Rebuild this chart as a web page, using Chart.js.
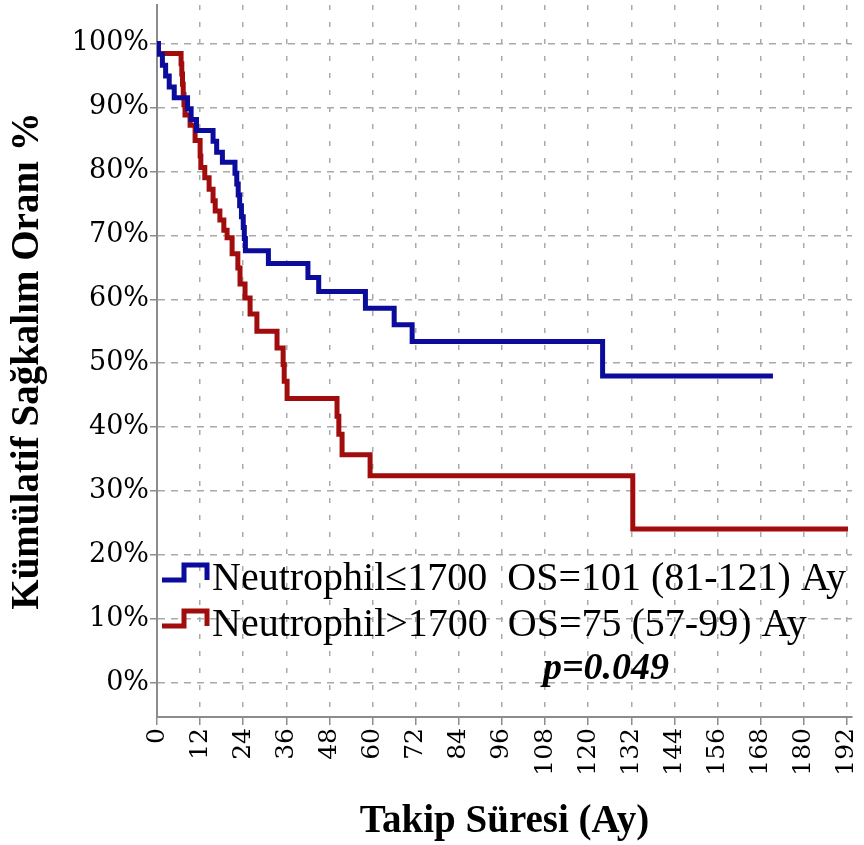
<!DOCTYPE html>
<html>
<head>
<meta charset="utf-8">
<script src="https://cdn.jsdelivr.net/npm/chart.js@4"></script>
<style>
  html, body { margin: 0; padding: 0; background: #fff; }
</style>
</head>
<body>
<canvas id="kmChart" width="864" height="845"></canvas>
<script>
// Neutrophil <= 1700 (months, cumulative survival %)
const lowTime = [0, 0.4, 1.5, 2.4, 3.4, 4.8, 8.5, 9.5, 11.0, 15.6, 16.6, 18.2, 21.7, 22.2, 22.6, 23.0, 23.5, 24.0, 24.3, 24.6, 31.0, 42.0, 45.0, 58.0, 66.0, 71.0, 124.0, 171.4];
const lowSurv = [100, 98.3, 96.6, 94.9, 93.2, 91.5, 89.8, 88.1, 86.4, 84.7, 83.0, 81.4, 79.7, 78.0, 76.3, 74.6, 72.9, 71.2, 69.5, 67.6, 65.6, 63.4, 61.2, 58.6, 56.0, 53.4, 48.0, 48.0];

// Neutrophil > 1700
const highTime = [0, 0.3, 6.7, 6.9, 7.1, 7.3, 7.5, 7.8, 9.2, 10.6, 12.0, 12.2, 13.3, 14.5, 15.6, 16.2, 17.5, 18.6, 19.5, 20.9, 22.5, 23.1, 24.5, 25.9, 27.8, 33.4, 35.1, 35.4, 36.2, 50.1, 50.6, 51.5, 59.3, 132.4, 192.3];
const highSurv = [100, 98.4, 96.8, 95.2, 93.6, 92.0, 90.4, 88.8, 87.2, 84.8, 82.4, 80.6, 79.0, 77.2, 75.4, 73.8, 72.4, 70.8, 69.6, 67.1, 64.9, 62.4, 60.2, 57.7, 55.0, 52.4, 49.8, 47.2, 44.5, 41.7, 38.9, 35.7, 32.4, 24.1, 24.1];

const xTicks = [0, 12, 24, 36, 48, 60, 72, 84, 96, 108, 120, 132, 144, 156, 168, 180, 192];
const yTicks = [0, 10, 20, 30, 40, 50, 60, 70, 80, 90, 100];
const yTickLabels = ['0%', '10%', '20%', '30%', '40%', '50%', '60%', '70%', '80%', '90%', '100%'];

const seriesLabels = ['Neutrophil\u22641700  OS=101 (81-121) Ay', 'Neutrophil>1700  OS=75 (57-99) Ay'];
const seriesColors = ['#0b0b9c', '#a10c0c'];
const pValueText = 'p=0.049';

const toPoints = (t, s) => t.map((v, i) => ({ x: v, y: s[i] }));

// legend + p value drawn inside the plot (lower left)
const kmLegend = {
  id: 'kmLegend',
  afterDraw(chart) {
    const ctx = chart.ctx;
    const left = chart.chartArea.left;
    const baselines = [590, 636];
    ctx.save();
    chart.data.datasets.forEach((ds, i) => {
      const b = baselines[i];
      const low = b - 10, high = b - 25;
      ctx.strokeStyle = ds.borderColor;
      ctx.lineWidth = 5;
      ctx.lineJoin = 'miter';
      ctx.beginPath();
      ctx.moveTo(left + 5, low);
      ctx.lineTo(left + 27, low);
      ctx.lineTo(left + 27, high);
      ctx.lineTo(left + 50, high);
      ctx.lineTo(left + 50, low);
      ctx.stroke();
      ctx.fillStyle = '#000';
      ctx.font = '40px "Liberation Serif"';
      ctx.textAlign = 'left';
      ctx.textBaseline = 'alphabetic';
      ctx.fillText(seriesLabels[i], left + 55, b);
    });
    ctx.font = 'italic bold 38px "Liberation Serif"';
    ctx.textAlign = 'center';
    ctx.fillText(pValueText, 606, 679);
    ctx.restore();
  }
};

new Chart(document.getElementById('kmChart'), {
  type: 'line',
  data: {
    datasets: [
      { label: seriesLabels[0], data: toPoints(lowTime, lowSurv), borderColor: seriesColors[0] },
      { label: seriesLabels[1], data: toPoints(highTime, highSurv), borderColor: seriesColors[1] }
    ].map(d => Object.assign(d, { stepped: 'before', borderWidth: 5, pointRadius: 0, fill: false, borderJoinStyle: 'miter' }))
  },
  options: {
    responsive: false,
    animation: false,
    layout: { padding: { top: 5, right: 12, left: 0, bottom: 0 } },
    plugins: { legend: { display: false }, tooltip: { enabled: false } },
    scales: {
      x: {
        type: 'linear',
        min: 0,
        max: 193.4,
        afterBuildTicks: s => { s.ticks = xTicks.map(v => ({ value: v })); },
        afterFit: s => { s.height = 128; s.paddingLeft = 0; s.paddingRight = 0; },
        ticks: {
          autoSkip: false, minRotation: 90, maxRotation: 90, padding: 3, color: '#000',
          font: { family: 'DejaVu Serif', size: 25 }
        },
        grid: { color: '#a9a9a9', lineWidth: 1.5, tickLength: 8, tickColor: '#8c8c8c', tickWidth: 1.5 },
        border: { color: '#8c8c8c', width: 2, dash: [5, 12] },
        title: {
          display: true, text: 'Takip Süresi (Ay)', color: '#000',
          font: { family: 'Liberation Serif', size: 39, weight: 'bold' },
          padding: { top: 0, bottom: 0 }
        }
      },
      y: {
        min: -5.3,
        max: 106,
        afterBuildTicks: s => { s.ticks = yTicks.map(v => ({ value: v })); },
        afterFit: s => { s.width = 157; s.paddingTop = 0; s.paddingBottom = 0; },
        ticks: {
          padding: 1, color: '#000',
          callback: (v, i) => yTickLabels[i],
          font: { family: 'DejaVu Serif', size: 27 }
        },
        grid: { color: '#a9a9a9', lineWidth: 1.5, tickLength: 7, tickColor: '#8c8c8c', tickWidth: 1.5 },
        border: { color: '#8c8c8c', width: 2, dash: [7, 6] },
        title: {
          display: true, text: 'Kümülatif Sağkalım Oranı %', color: '#000',
          font: { family: 'Liberation Serif', size: 39, weight: 'bold' },
          padding: { top: 5, bottom: 0 }
        }
      }
    }
  },
  plugins: [kmLegend]
});
</script>
</body>
</html>
